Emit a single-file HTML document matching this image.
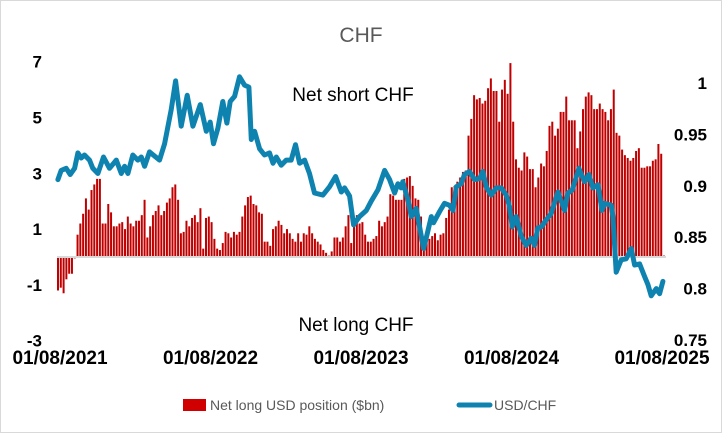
<!DOCTYPE html>
<html><head><meta charset="utf-8"><style>
body{margin:0;background:#fff}
svg{display:block;font-family:"Liberation Sans",sans-serif}
</style></head><body>
<svg width="722" height="433" viewBox="0 0 722 433" xmlns="http://www.w3.org/2000/svg">
<rect x="0.5" y="0.5" width="721" height="432" fill="#fff" stroke="#d9d9d9"/>
<text x="361" y="42" text-anchor="middle" font-size="21" fill="#595959">CHF</text>
<g id="bars"></g>
<line x1="57" y1="257" x2="666" y2="257" stroke="#d9d9d9" stroke-width="2"/>
<path id="line" fill="none" stroke="#0e83b0" stroke-width="5" stroke-linejoin="round" stroke-linecap="round"/>
<g id="ticks" font-weight="bold" font-size="17" fill="#000"></g>
<text x="353" y="101" text-anchor="middle" font-size="19" fill="#000">Net short CHF</text>
<text x="356" y="331" text-anchor="middle" font-size="19" fill="#000">Net long CHF</text>
<g>
<rect x="183" y="399" width="23" height="12" fill="#d00000"/>
<text x="210" y="410" font-size="14" fill="#595959">Net long USD position ($bn)</text>
<line x1="459" y1="405" x2="490" y2="405" stroke="#0e83b0" stroke-width="5" stroke-linecap="round"/>
<text x="494" y="410" font-size="14" fill="#595959">USD/CHF</text>
</g>
</svg>
<script>
const barValues=[-1.2,-1.1,-1.3,-0.8,-0.6,-0.6,-0.05,0.8,1.2,1.55,2.1,1.7,2.4,2.6,2.8,2.8,1.2,1.2,1.9,1.6,1.1,1.1,1.2,1.25,1.0,1.45,1.2,1.1,1.3,1.3,1.5,2.05,0.7,1.1,1.5,1.65,1.85,1.5,1.65,1.95,2.1,2.5,2.6,2.05,0.85,0.9,1.3,1.1,1.4,1.5,1.25,1.75,0.3,1.4,1.45,1.25,0.65,0.3,0.25,0.5,0.9,0.85,0.7,0.9,0.8,0.9,1.45,1.85,2.15,2.2,1.9,1.85,1.6,1.55,0.55,0.55,0.4,1.0,1.1,1.3,1.15,0.85,1.0,0.85,0.65,0.55,0.85,0.55,0.85,0.8,1.1,0.85,0.65,0.55,0.45,0.25,0.15,0.05,0.2,0.7,0.7,0.55,0.7,1.1,1.5,
0.5,1.1,1.5,1.2,1.25,0.8,0.55,0.55,0.65,0.75,1.3,1.1,1.25,1.45,2.25,2.2,2.05,2.05,2.05,2.8,2.85,2.9,2.55,2.1,2.05,1.45,0.55,0.55,0.65,0.75,0.85,0.6,0.8,0.85,1.4,1.7,2.5,2.55,2.7,2.85,3.05,3.1,4.35,4.95,5.8,5.65,5.7,5.5,5.6,6.05,6.4,5.95,5.95,4.85,6.0,6.35,5.85,6.95,4.85,3.5,3.2,3.1,3.75,3.6,3.15,3.15,2.5,2.85,3.35,3.25,3.8,4.7,4.85,4.35,4.6,5.2,5.2,5.75,4.9,4.9,4.9,3.9,4.5,5.3,5.75,5.9,5.8,5.3,5.3,5.5,5.3,5.2,4.9,5.3,6.0,4.45,4.35,3.85,3.65,3.55,3.45,3.55,3.8,3.9,3.2,3.2,3.25,3.25,3.45,3.5,4.05,3.7,0.05];
const lineDates=[2021.569,2021.591,2021.624,2021.651,2021.680,2021.702,2021.724,2021.746,2021.779,2021.801,2021.835,2021.872,2021.912,2021.957,2021.990,2022.012,2022.034,2022.067,2022.100,2022.123,2022.145,2022.178,2022.244,2022.278,2022.322,2022.351,2022.388,2022.428,2022.466,2022.515,2022.555,2022.581,2022.603,2022.632,2022.665,2022.692,2022.714,2022.743,2022.776,2022.809,2022.838,2022.854,2022.876,2022.909,2022.942,2022.975,2022.998,2023.020,2023.053,2023.086,2023.119,2023.148,2023.175,2023.208,2023.241,2023.274,2023.330,2023.374,2023.414,2023.452,2023.474,2023.507,2023.534,2023.573,2023.618,2023.651,2023.695,2023.740,2023.773,2023.806,2023.828,2023.850,2023.861,2023.895,2023.917,2023.950,2023.999,2024.021,2024.050,2024.065,2024.105,2024.138,2024.171,2024.194,2024.216,2024.249,2024.271,2024.304,2024.338,2024.371,2024.393,2024.415,2024.448,2024.482,2024.515,2024.548,2024.570,2024.588,2024.614,2024.648,2024.681,2024.714,2024.736,2024.758,2024.781,2024.814,2024.847,2024.891,2024.936,2024.958,2024.987,2025.031,2025.068,2025.097,2025.124,2025.157,2025.184,2025.201,2025.246,2025.257,2025.279,2025.312,2025.345,2025.379,2025.401,2025.434,2025.467,2025.489,2025.511,2025.545,2025.567,2025.589];
const lineValues=[0.906,0.915,0.917,0.911,0.917,0.932,0.927,0.930,0.925,0.917,0.912,0.928,0.917,0.925,0.912,0.919,0.912,0.930,0.925,0.928,0.919,0.933,0.925,0.941,0.974,1.002,0.958,0.988,0.958,0.979,0.953,0.962,0.941,0.956,0.982,0.961,0.982,0.987,1.006,0.998,0.996,0.945,0.953,0.936,0.930,0.932,0.922,0.928,0.920,0.925,0.925,0.940,0.922,0.925,0.912,0.893,0.891,0.899,0.909,0.894,0.898,0.890,0.862,0.870,0.876,0.885,0.896,0.915,0.906,0.893,0.902,0.898,0.904,0.886,0.870,0.878,0.839,0.852,0.870,0.864,0.875,0.883,0.881,0.876,0.899,0.902,0.911,0.914,0.906,0.907,0.914,0.899,0.891,0.898,0.898,0.891,0.880,0.860,0.870,0.851,0.842,0.849,0.842,0.859,0.860,0.867,0.873,0.894,0.876,0.893,0.896,0.917,0.904,0.911,0.898,0.901,0.876,0.883,0.881,0.870,0.816,0.828,0.829,0.839,0.823,0.824,0.812,0.804,0.793,0.800,0.795,0.807];
const leftTicks=[7,5,3,1,-1,-3];
const rightTicks=[1,0.95,0.9,0.85,0.8,0.75];
const rightTickLabels=["1","0.95","0.9","0.85","0.8","0.75"];
const xTickDates=[2021.583,2022.583,2023.583,2024.583,2025.583];
const xTickLabels=["01/08/2021","01/08/2022","01/08/2023","01/08/2024","01/08/2025"];

const NS="http://www.w3.org/2000/svg";
const yL=v=>257-v*27.9;
const yR=v=>83+(1-v)*1028;
const xT=t=>60+(t-2021.583)*150.5;
const barX=i=>58+i*(664-58)/(barValues.length-1);

const bars=document.getElementById('bars');
barValues.forEach((v,i)=>{
  const r=document.createElementNS(NS,'rect');
  
  
  const y0=yL(0),y1=yL(v);
  r.setAttribute('x',(barX(i)-1).toFixed(2));
  r.setAttribute('y',Math.min(y0,y1).toFixed(2));
  r.setAttribute('width','2');
  r.setAttribute('height',Math.max(0.5,Math.abs(y1-y0)).toFixed(2));
  r.setAttribute('fill','#c00000');
  bars.appendChild(r);
});
document.getElementById('line').setAttribute('d',lineValues.map((v,i)=>(i?'L':'M')+xT(lineDates[i]).toFixed(1)+' '+yR(v).toFixed(1)).join(' '));

const ticks=document.getElementById('ticks');
function addText(x,y,s,anchor,name,size){
  const t=document.createElementNS(NS,'text');
  
  
  t.setAttribute('x',x);t.setAttribute('y',y);
  t.setAttribute('text-anchor',anchor);
  if(size)t.setAttribute('font-size',size);
  t.textContent=s;ticks.appendChild(t);
}
leftTicks.forEach(v=>addText(42,yL(v)+6,String(v),'end','left-tick-label'));
rightTicks.forEach((v,i)=>addText(707,yR(v)+6,rightTickLabels[i],'end','right-tick-label'));
xTickDates.forEach((t,i)=>addText(xT(t),364,xTickLabels[i],'middle','x-tick-label','19'));
</script>
</body></html>
